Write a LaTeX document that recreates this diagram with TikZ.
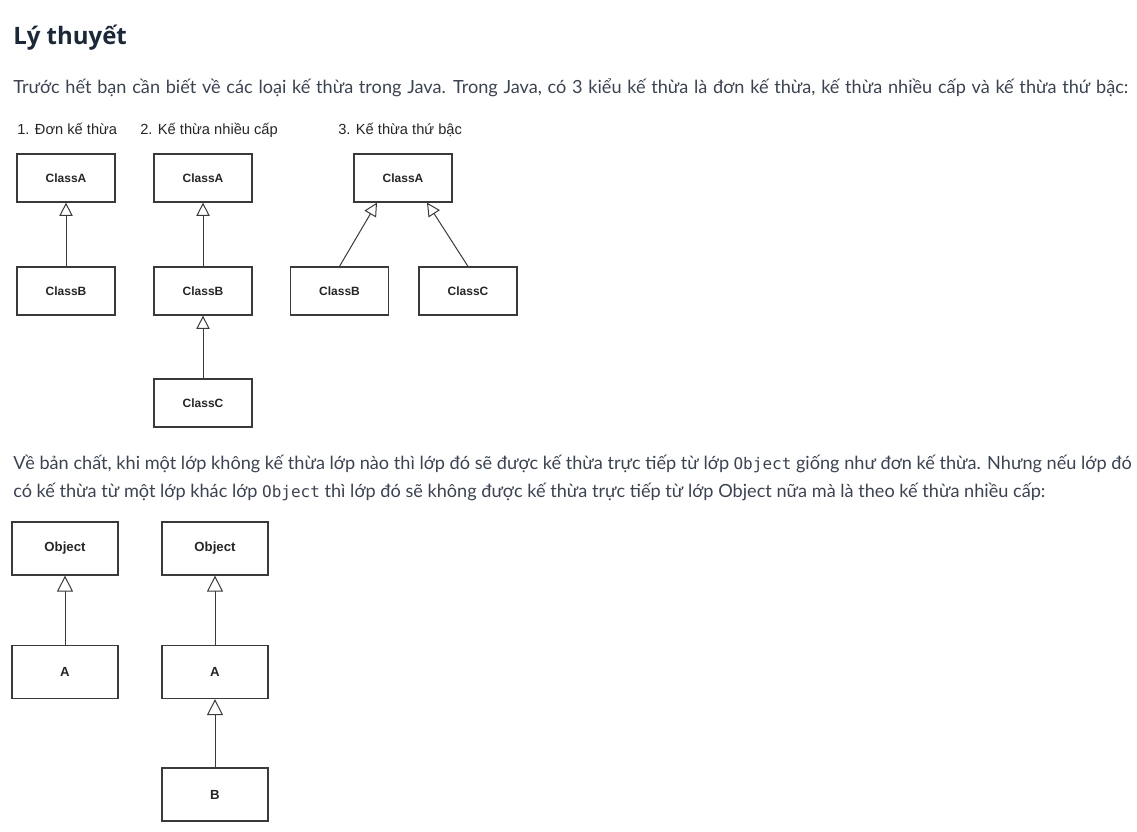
\documentclass[tikz,border=0pt]{standalone}
\usepackage{fontspec}
\setmainfont{Liberation Sans}
\newfontfamily\bodyfont{Lato}
\newfontfamily\titlefont{Open Sans}
\newfontfamily\codefont{DejaVu Sans Mono}
\newcommand{\codeword}[1]{{\codefont\fontsize{12}{14}\selectfont #1}}
\usetikzlibrary{arrows.meta}
\definecolor{titlecol}{HTML}{1B2838}
\definecolor{bodycol}{HTML}{3B4351}
\definecolor{boxcol}{HTML}{3A3A3A}

\tikzset{
  classbox/.style={draw=boxcol, line width=0.9pt, minimum width=73.5pt, minimum height=36pt, inner sep=0pt, text=black!85, font=\bfseries\fontsize{9}{11}\selectfont},
  bigbox/.style={classbox, minimum width=79.5pt, minimum height=39.75pt, font=\bfseries\fontsize{9.9}{12}\selectfont},
  inheritarrow/.style={draw=boxcol, line width=0.75pt, -{Triangle[open, length=10pt, width=10pt]}},
  biginherit/.style={inheritarrow, -{Triangle[open, length=12pt, width=12pt]}},
  bodytext/.style={anchor=base west, inner sep=0pt, text=bodycol, font=\bodyfont\fontsize{13.6}{16}\selectfont},
  headlabel/.style={anchor=base west, inner sep=0pt, text=black!85, font=\fontsize{11}{13}\selectfont},
}

\begin{document}
\begin{tikzpicture}[x=0.75pt,y=0.75pt,yscale=-1]
\useasboundingbox[fill=white] (0,0) rectangle (1137,831);

% Text Node
\draw (13,45) node [anchor=base west, inner sep=0pt, text=titlecol, font=\titlefont\bfseries\fontsize{18}{22}\selectfont] (title) {Lý thuyết};
% Text Node
\draw (13,94) node [bodytext] (intro) {\spaceskip=\dimexpr\fontdimen2\font+0.8pt\relax Trước hết bạn cần biết về các loại kế thừa trong Java. Trong Java, có 3 kiểu kế thừa là đơn kế thừa, kế thừa nhiều cấp và kế thừa thứ bậc:};

% Text Node
\draw (17,135) node [headlabel] (lbla) {1. Đơn kế thừa};
% Text Node
\draw (140,135) node [headlabel] (lblb) {2. Kế thừa nhiều cấp};
% Text Node
\draw (338,135) node [headlabel] (lblc) {3. Kế thừa thứ bậc};

%Single inheritance
\draw (66,178) node [classbox] (a1) {ClassA};
\draw (66,291) node [classbox] (b1) {ClassB};
\draw [inheritarrow] (b1.north) -- (a1.south);

%Multilevel inheritance
\draw (203,178) node [classbox] (a2) {ClassA};
\draw (203,291) node [classbox] (b2) {ClassB};
\draw (203,403) node [classbox] (c2) {ClassC};
\draw [inheritarrow] (b2.north) -- (a2.south);
\draw [inheritarrow] (c2.north) -- (b2.south);

%Hierarchical inheritance
\draw (403,178) node [classbox] (a3) {ClassA};
\draw (339.5,291) node [classbox] (b3) {ClassB};
\draw (468,291) node [classbox] (c3) {ClassC};
\draw [inheritarrow] (b3.north) -- ([xshift=-19.5pt]a3.south);
\draw [inheritarrow] (c3.north) -- ([xshift=18pt]a3.south);

% Text Node
\draw (13,469) node [bodytext] (note1) {Về bản chất, khi một lớp không kế thừa lớp nào thì lớp đó sẽ được kế thừa trực tiếp từ lớp \codeword{Object} giống như đơn kế thừa. Nhưng nếu lớp đó};
% Text Node
\draw (13,497) node [bodytext] (note2) {có kế thừa từ một lớp khác lớp \codeword{Object} thì lớp đó sẽ không được kế thừa trực tiếp từ lớp Object nữa mà là theo kế thừa nhiều cấp:};

%Object directly
\draw (65,548.5) node [bigbox] (obj1) {Object};
\draw (65,672) node [bigbox] (ca1) {A};
\draw [biginherit] (ca1.north) -- (obj1.south);

%Object through A
\draw (215,548.5) node [bigbox] (obj2) {Object};
\draw (215,672) node [bigbox] (ca2) {A};
\draw (215,794.5) node [bigbox] (cb2) {B};
\draw [biginherit] (ca2.north) -- (obj2.south);
\draw [biginherit] (cb2.north) -- (ca2.south);

\end{tikzpicture}
\end{document}
